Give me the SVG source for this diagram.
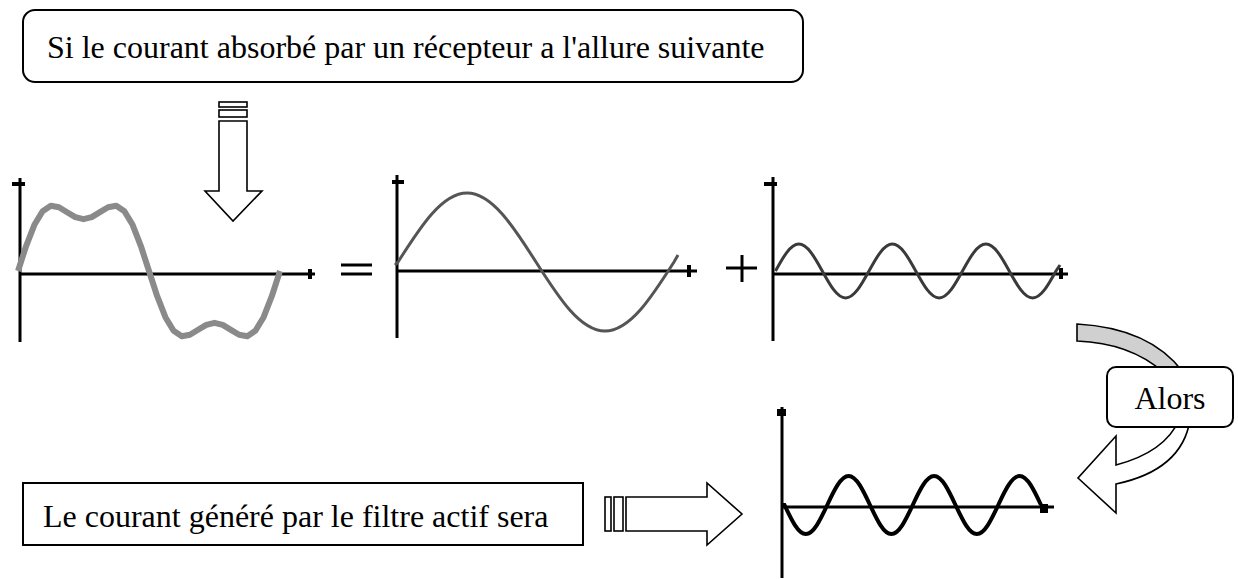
<svg xmlns="http://www.w3.org/2000/svg" width="1238" height="579" viewBox="0 0 1238 579">
<style>
.ax{stroke:#000;stroke-width:3;fill:none}
.mk{fill:#000}
.box{fill:#fff;stroke:#000;stroke-width:2}
.txt{font-family:"Liberation Serif","Times New Roman",serif;font-size:32px;fill:#000}
.arr{fill:#fff;stroke:#000;stroke-width:1.6;stroke-linejoin:miter}
.sym{stroke:#000;stroke-width:3;fill:none}
</style>
<rect width="1238" height="579" fill="#fff"/>

<g id="box-top">
<rect class="box" x="23" y="10" width="780" height="72" rx="12"/>
<text class="txt" x="47" y="58">Si le courant absorbé par un récepteur a l'allure suivante</text>
</g>

<g id="graph-distorted">
<line class="ax" x1="20" y1="178" x2="20" y2="342"/>
<rect class="mk" x="12" y="182" width="13" height="4"/>
<line class="ax" x1="20" y1="274" x2="315" y2="274"/>
<rect class="mk" x="308" y="269" width="4" height="10"/>
<polyline fill="none" stroke="#8a8a8a" stroke-width="6" stroke-linejoin="round" points="18,271 26.2,245.8 34.4,224.8 42.6,211.2 50.8,205.8 58.9,207.2 67.1,212.2 75.3,217.1 83.5,219.2 91.7,217.1 99.9,212.2 108.1,207.2 116.3,205.8 124.4,211.2 132.6,224.8 140.8,245.8 149,271 157.2,296.2 165.4,317.2 173.6,330.8 181.8,336.2 189.9,334.8 198.1,329.8 206.3,324.9 214.5,322.8 222.7,324.9 230.9,329.8 239.1,334.8 247.3,336.2 255.4,330.8 263.6,317.2 271.8,296.2 280,271"/>
</g>

<g id="equals">
<line class="sym" x1="341" y1="265" x2="372" y2="265"/>
<line class="sym" x1="341" y1="274" x2="372" y2="274"/>
</g>

<g id="graph-fundamental">
<line class="ax" x1="397" y1="175" x2="397" y2="338"/>
<rect class="mk" x="392" y="180" width="12" height="4"/>
<line class="ax" x1="397" y1="271" x2="697" y2="271"/>
<rect class="mk" x="687" y="265" width="4" height="12"/>
<path fill="none" stroke="#555" stroke-width="3" d="M395,265 L398,262 c22.5,-35.35 44.03,-69 69,-69 c24.97,0 46.5,33.65 69,69 c22.5,35.35 44.03,69 69,69 c24.97,0 46.5,-33.65 69,-69 l4,-7"/>
</g>

<g id="plus">
<line class="sym" x1="742" y1="255" x2="742" y2="282"/>
<line class="sym" x1="726" y1="268" x2="757" y2="268"/>
</g>

<g id="graph-harmonic">
<line class="ax" x1="773" y1="177" x2="773" y2="341"/>
<rect class="mk" x="764" y="182" width="13" height="4"/>
<line class="ax" x1="773" y1="274" x2="1068" y2="274"/>
<rect class="mk" x="1059" y="268" width="4" height="11"/>
<path fill="none" stroke="#3a3a3a" stroke-width="3" d="M775.5,271 c7.62,-13.83 14.92,-27 23.375,-27 c8.46,0 15.75,13.17 23.375,27 c7.62,13.83 14.92,27 23.375,27 c8.46,0 15.75,-13.17 23.375,-27 c7.62,-13.83 14.92,-27 23.375,-27 c8.46,0 15.75,13.17 23.375,27 c7.62,13.83 14.92,27 23.375,27 c8.46,0 15.75,-13.17 23.375,-27 c7.62,-13.83 14.92,-27 23.375,-27 c8.46,0 15.75,13.17 23.375,27 c7.62,13.83 14.92,27 23.375,27 c8.46,0 15.75,-13.17 23.375,-27 l4,-6"/>
</g>

<g id="connectors">
<g id="arrow-down">
<rect class="arr" x="219" y="102" width="28" height="5"/>
<rect class="arr" x="219" y="110" width="28" height="7"/>
<polygon class="arr" points="219,121 247,121 247,191 262,191 233,221 205,191 219,191"/>
</g>
<g id="arrow-alors">
<path fill="#d0d0d0" stroke="#000" stroke-width="1.6" d="M1077,324 Q1150,328 1183,372 L1163,372 Q1130,343 1077,341 Z"/>
<path class="arr" d="M1190,420 Q1182,470 1116,484 L1116,513 L1078,478 L1116,436 L1116,465 Q1165,452 1179,420 Z"/>
</g>
<g id="arrow-right">
<rect class="arr" x="605" y="497" width="6" height="34"/>
<rect class="arr" x="614" y="497" width="9" height="34"/>
<polygon class="arr" points="626,497 707,497 707,483 742,514 707,545 707,531 626,531"/>
</g>
</g>

<g id="box-alors">
<rect class="box" x="1107" y="367" width="126" height="60" rx="9"/>
<text class="txt" x="1170" y="409" text-anchor="middle">Alors</text>
</g>

<g id="box-bottom">
<rect class="box" x="23" y="483" width="560" height="62"/>
<text class="txt" x="43" y="527">Le courant généré par le filtre actif sera</text>
</g>

<g id="graph-compensation">
<line class="ax" x1="782" y1="407" x2="782" y2="578"/>
<rect class="mk" x="777" y="409" width="9" height="7"/>
<line class="ax" x1="782" y1="507" x2="1054" y2="507"/>
<rect class="mk" x="1040" y="504" width="8" height="9"/>
<path fill="none" stroke="#000" stroke-width="4" d="M782,505 L784.5,505 c6.97,14.86 13.64,29 21.375,29 c7.74,0 14.40,-14.14 21.375,-29 c6.97,-14.86 13.64,-29 21.375,-29 c7.74,0 14.40,14.14 21.375,29 c6.97,14.86 13.64,29 21.375,29 c7.74,0 14.40,-14.14 21.375,-29 c6.97,-14.86 13.64,-29 21.375,-29 c7.74,0 14.40,14.14 21.375,29 c6.97,14.86 13.64,29 21.375,29 c7.74,0 14.40,-14.14 21.375,-29 c6.97,-14.86 13.64,-29 21.375,-29 c7.74,0 14.40,14.14 21.375,29"/>
</g>
</svg>
